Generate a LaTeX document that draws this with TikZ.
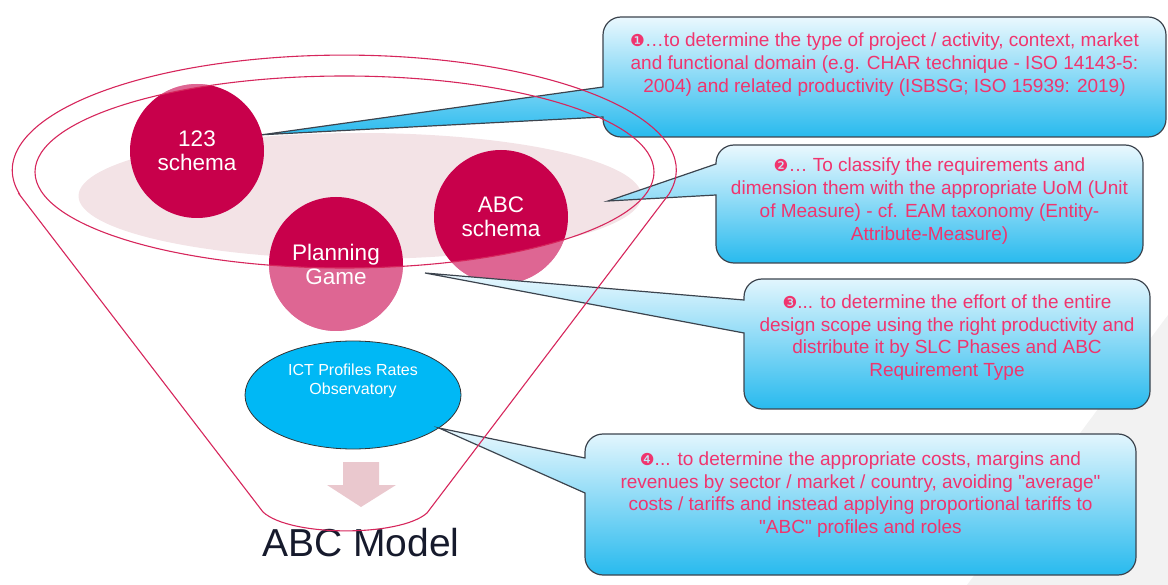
\documentclass[tikz,border=0pt]{standalone}
\usepackage{fontspec}
\setmainfont{Liberation Sans}[Ligatures=TeXOff]
\newfontfamily\dingfont{DejaVu Sans}
\usetikzlibrary{shapes.geometric}
\definecolor{crimson}{RGB}{200,0,75}
\definecolor{rimline}{RGB}{214,38,92}
\definecolor{band}{RGB}{243,227,230}
\definecolor{sky}{RGB}{0,184,245}
\definecolor{bubtop}{RGB}{234,248,254}
\definecolor{bubbot}{RGB}{40,186,238}
\definecolor{bubline}{RGB}{60,68,78}
\definecolor{notetext}{RGB}{240,52,110}
\definecolor{arrowpink}{RGB}{234,200,206}
\definecolor{modeltext}{RGB}{22,26,44}
\definecolor{backgray}{RGB}{242,242,242}
\tikzset{
  schema/.style={circle,fill=crimson,text=white,minimum size=134pt,inner sep=0pt,
    align=center,font=\fontsize{22.5}{24}\selectfont},
  rim/.style={draw=rimline,line width=1.1pt},
  ict/.style={ellipse,fill=sky,draw=black!80,line width=0.8pt,minimum width=216pt,
    minimum height=108pt,inner sep=0pt},
  ictlabel/.style={text=white,align=center,font=\fontsize{16}{19.5}\selectfont},
  notebox/.style={rectangle,inner sep=0pt,outer sep=0pt},
  bubble/.style={draw=bubline,line width=1.2pt,top color=bubtop,bottom color=bubbot},
  note/.style={text=notetext,align=center,font=\fontsize{19}{22.8}\selectfont},
  model/.style={text=modeltext,font=\fontsize{39}{40}\selectfont},
}
\newcommand{\bulletnum}[1]{{\dingfont\fontsize{16.5}{16.5}\selectfont #1}}

\begin{document}
\begin{tikzpicture}[x=1pt,y=-1pt]
\useasboundingbox (0,0) rectangle (1168,585);
% The background
\fill[backgray] (1168,315) -- (967,585) -- (1168,585) -- cycle;
% The band
\fill[band] (360,196) ellipse [x radius=281.5,y radius=63];
% The schemas
\node[schema] (s123) at (197,151) {123\\schema};
\node[schema] (abc) at (501,217) {ABC\\schema};
\node[schema] (game) at (336,264) {Planning\\Game};
% lighter outside the rim
\begin{scope}[even odd rule]
  \clip (0,0) rectangle (1168,585) (344.5,172) ellipse [x radius=309.5,y radius=96];
  \fill[white,fill opacity=0.4] (s123.center) circle [radius=67] (abc.center) circle [radius=67]
    (game.center) circle [radius=67];
\end{scope}
% The observatory
\node[ict] (ict) at (353,395) {};
\node[ictlabel] (ictText) at (353,381) {ICT Profiles Rates\\Observatory};
% The arrow
\fill[arrowpink] (343,462) -- (379,462) -- (379,485) -- (396,485) -- (361,507) -- (327,485)
  -- (343,485) -- cycle;
\node[model,anchor=base] (model) at (361,556) {ABC Model};
% The notes
\coordinate (tip2) at (608,201);
\coordinate (tip3) at (425,273);
\node[notebox,minimum width=563pt,minimum height=120pt] (note1) at (884.5,77) {};
\node[notebox,minimum width=427pt,minimum height=118pt] (note2) at (929.5,204) {};
\node[notebox,minimum width=406pt,minimum height=130pt] (note3) at (947,344) {};
\node[notebox,minimum width=551pt,minimum height=141pt] (note4) at (860.5,504.5) {};
\foreach \n/\tip/\ta/\tb in {note1/s123.14/87/117, note2/tip2/164/195, note3/tip3/300/333,
  note4/ict.-21/458/493}
{
  \draw[bubble] (\tip) -- (\n.west |- 0,\ta) -- ([yshift=-18pt]\n.north west)
    arc[start angle=180,end angle=270,radius=18] -- ([xshift=-18pt]\n.north east)
    arc[start angle=270,end angle=360,radius=18] -- ([yshift=18pt]\n.south east)
    arc[start angle=0,end angle=90,radius=18] -- ([xshift=18pt]\n.south west)
    arc[start angle=90,end angle=180,radius=18] -- (\n.west |- 0,\tb) -- cycle;
}
\node[note] (txt1) at (884.5,64.5) {\bulletnum{❶}…to determine the type of project / activity, context, market\\
  and functional domain (e.g. CHAR technique - ISO 14143-5:\\
  2004) and related productivity (ISBSG; ISO 15939: 2019)};
\node[note] (txt2) at (929.5,201) {\bulletnum{❷}… To classify the requirements and\\
  dimension them with the appropriate UoM (Unit\\
  of Measure) - cf. EAM taxonomy (Entity-\\
  Attribute-Measure)};
\node[note] (txt3) at (947,337.5) {\bulletnum{❸}... to determine the effort of the entire\\
  design scope using the right productivity and\\
  distribute it by SLC Phases and ABC\\
  Requirement Type};
\node[note] (txt4) at (860.5,494.5) {\bulletnum{❹}... to determine the appropriate costs, margins and\\
  revenues by sector / market / country, avoiding "average"\\
  costs / tariffs and instead applying proportional tariffs to\\
  "ABC" profiles and roles};
% The funnel
\draw[rim] (19,194) -- (263,512) .. controls (290,537) and (400,537) .. (427,513) -- (669,194)
  arc[start angle=12,end angle=-192,x radius=332,y radius=115] -- cycle;
\draw[rim] (344.5,172) ellipse [x radius=309.5,y radius=96];
\end{tikzpicture}
\end{document}
